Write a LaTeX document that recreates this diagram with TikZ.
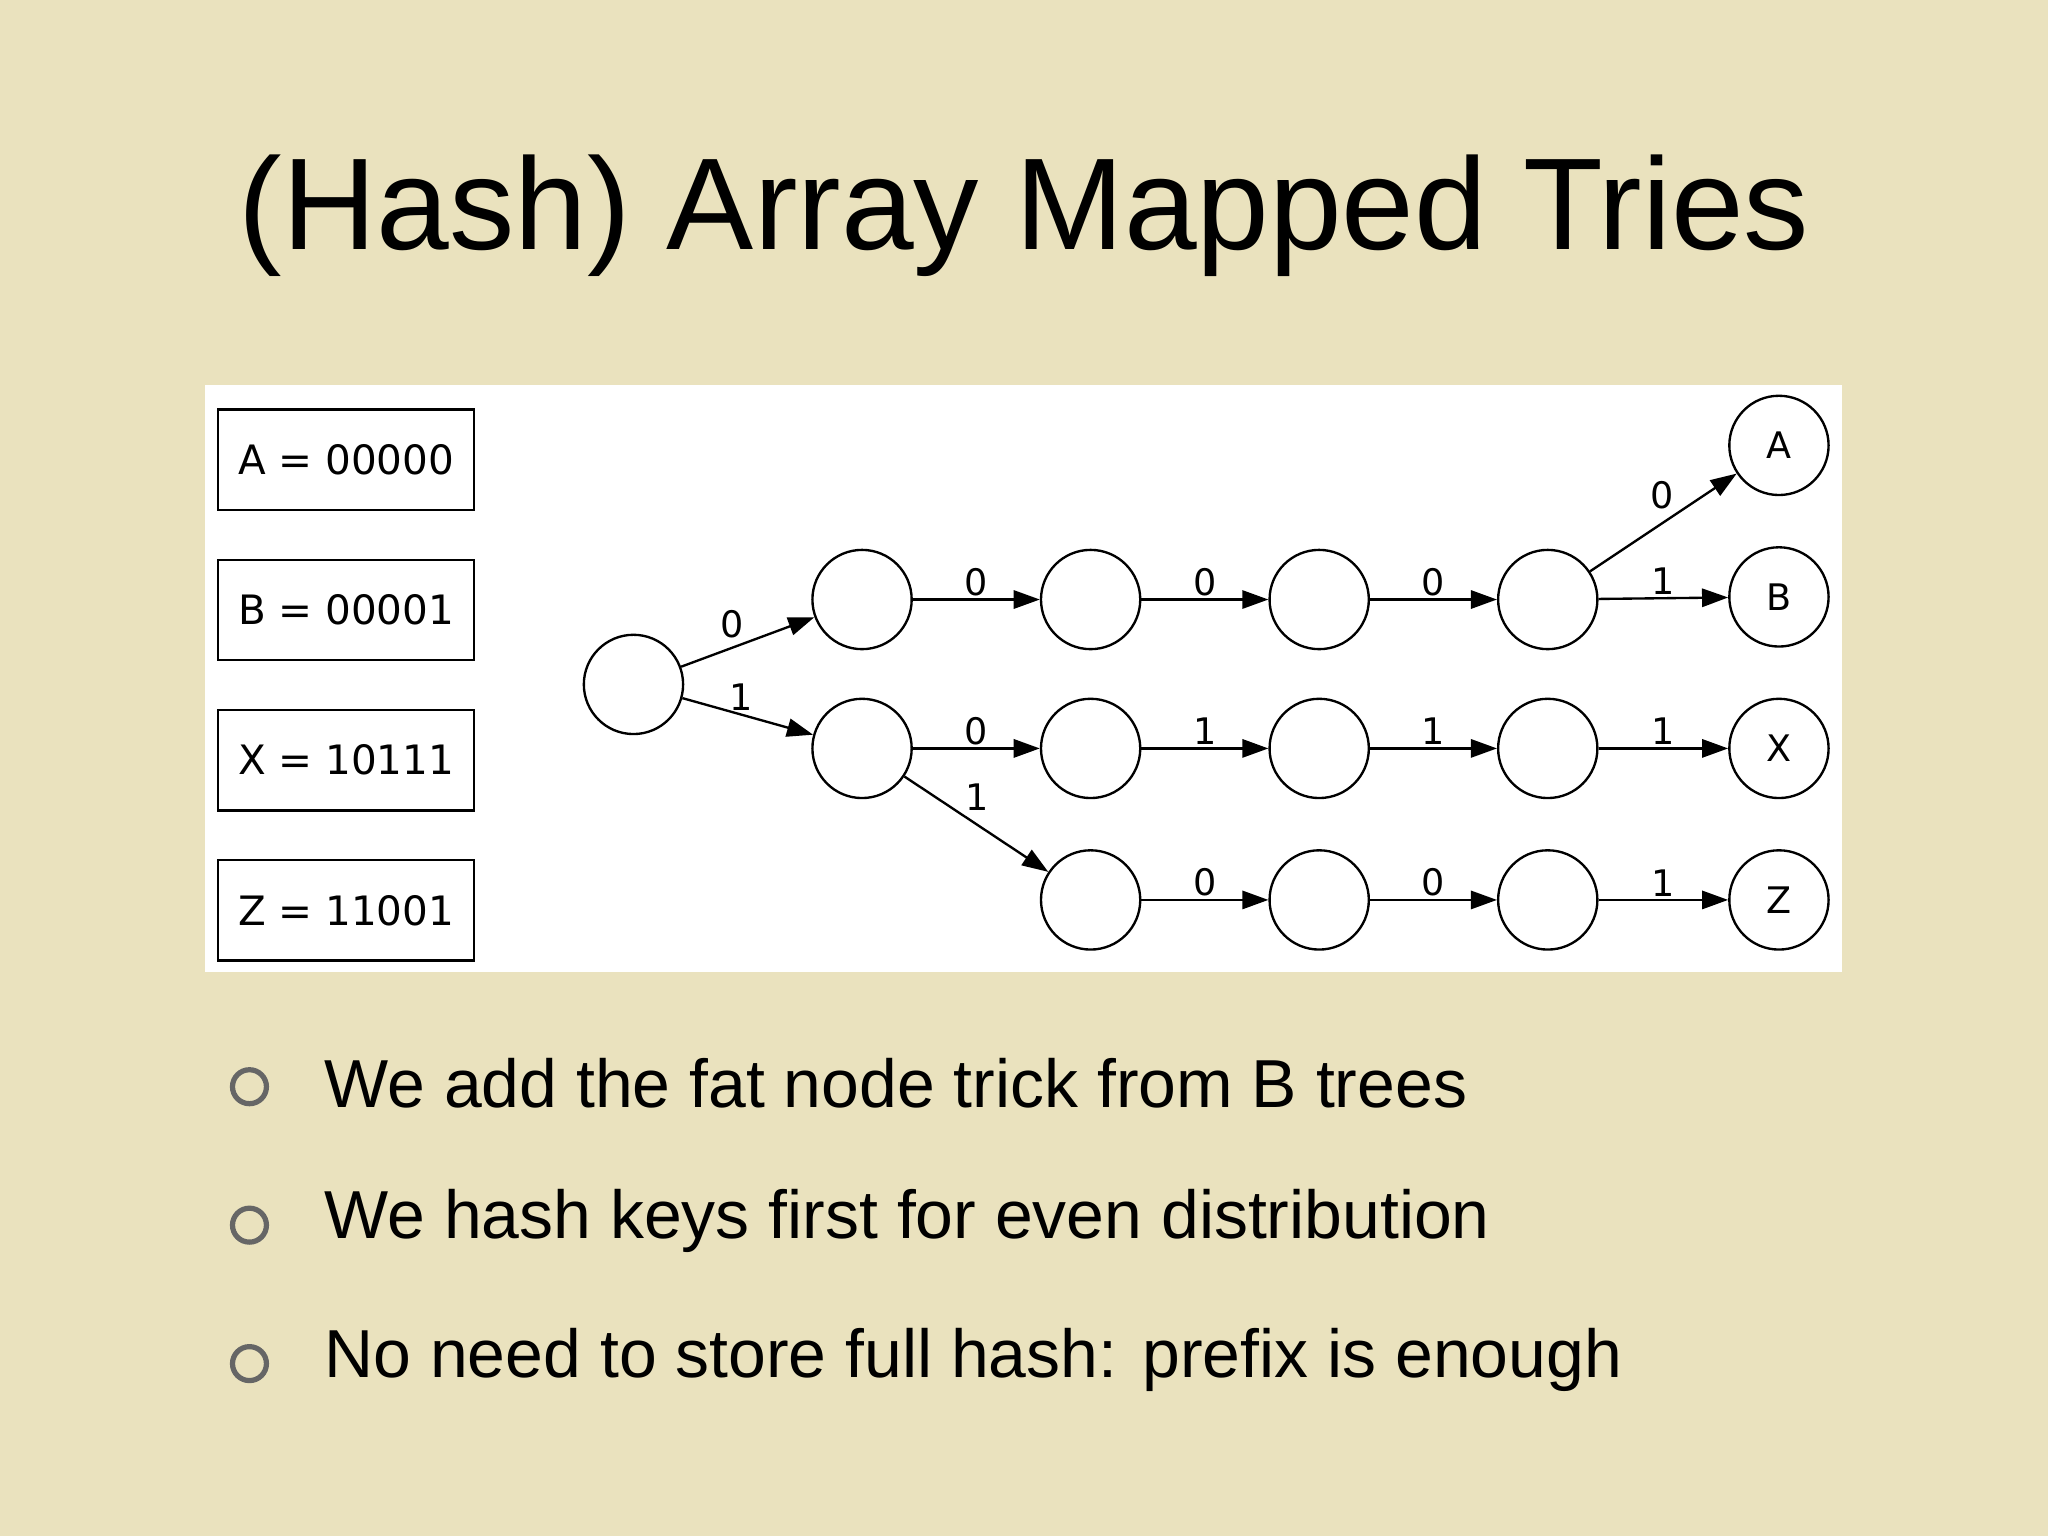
\documentclass[tikz,border=0pt]{standalone}
\usepackage{fontspec}
\setmainfont{Liberation Sans}
\newfontfamily\dv{DejaVu Sans}
\usetikzlibrary{arrows.meta}
\definecolor{bg}{RGB}{234,226,190}
\tikzset{
 st/.style={circle,draw,line width=1.8pt,minimum size=76pt,inner sep=0pt,fill=white},
 kb/.style={draw,line width=1.8pt,minimum width=196pt,minimum height=77pt,font=\dv\fontsize{31}{31}\selectfont},
 ed/.style={line width=1.8pt,-{Triangle[length=20pt,width=14pt]}},
 lb/.style={font=\dv\fontsize{28}{28}\selectfont,inner sep=2pt},
 bl/.style={font=\fontsize{52}{60}\selectfont,anchor=west},
 bu/.style={draw=gray!80!black,line width=4pt,circle,minimum size=26pt,inner sep=0pt}
}
\begin{document}
\begin{tikzpicture}[x=1pt,y=-1pt]
\fill[bg] (0,0) rectangle (1568,1176);
\useasboundingbox (0,0) rectangle (1568,1176);
\node (title) at (784,165) {\fontsize{100}{100}\selectfont (Hash) Array Mapped Tries};
\fill[white] (157,295) rectangle (1410,744);
\node[kb] (ka) at (265,352) {A = 00000};
\node[kb] (kbb) at (265,467) {B = 00001};
\node[kb] (kx) at (265,582) {X = 10111};
\node[kb] (kz) at (265,697) {Z = 11001};
\node[st] (r) at (485,524) {};
\node[st] (a1) at (660,459) {};
\node[st] (a2) at (835,459) {};
\node[st] (a3) at (1010,459) {};
\node[st] (a4) at (1185,459) {};
\node[st] (b1) at (660,573) {};
\node[st] (b2) at (835,573) {};
\node[st] (b3) at (1010,573) {};
\node[st] (b4) at (1185,573) {};
\node[st] (c2) at (835,689) {};
\node[st] (c3) at (1010,689) {};
\node[st] (c4) at (1185,689) {};
\node[st,font=\dv\fontsize{28}{28}\selectfont] (A) at (1362,341) {A};
\node[st,font=\dv\fontsize{28}{28}\selectfont] (B) at (1362,457) {B};
\node[st,font=\dv\fontsize{28}{28}\selectfont] (X) at (1362,573) {X};
\node[st,font=\dv\fontsize{28}{28}\selectfont] (Z) at (1362,689) {Z};
\draw[ed] (r) -- node[lb,above left]{0} (a1);
\draw[ed] (r) -- node[lb,above,pos=0.45]{1} (b1);
\draw[ed] (a1) -- node[lb,above]{0} (a2);
\draw[ed] (a2) -- node[lb,above]{0} (a3);
\draw[ed] (a3) -- node[lb,above]{0} (a4);
\draw[ed] (a4) -- node[lb,above left,pos=0.6]{0} (A);
\draw[ed] (a4) -- node[lb,above]{1} (B);
\draw[ed] (b1) -- node[lb,above]{0} (b2);
\draw[ed] (b2) -- node[lb,above]{1} (b3);
\draw[ed] (b3) -- node[lb,above]{1} (b4);
\draw[ed] (b4) -- node[lb,above]{1} (X);
\draw[ed] (b1) -- node[lb,above right,pos=0.4]{1} (c2);
\draw[ed] (c2) -- node[lb,above]{0} (c3);
\draw[ed] (c3) -- node[lb,above]{0} (c4);
\draw[ed] (c4) -- node[lb,above]{1} (Z);
\node[bu] (u1) at (191,832) {};
\node[bu] (u2) at (191,938) {};
\node[bu] (u3) at (191,1044) {};
\node[bl] (t1) at (245,829) {We add the fat node trick from B trees};
\node[bl] (t2) at (245,935) {We hash keys first for even distribution};
\node[bl] (t3) at (245,1041) {No need to store full hash: prefix is enough};
\end{tikzpicture}
\end{document}
